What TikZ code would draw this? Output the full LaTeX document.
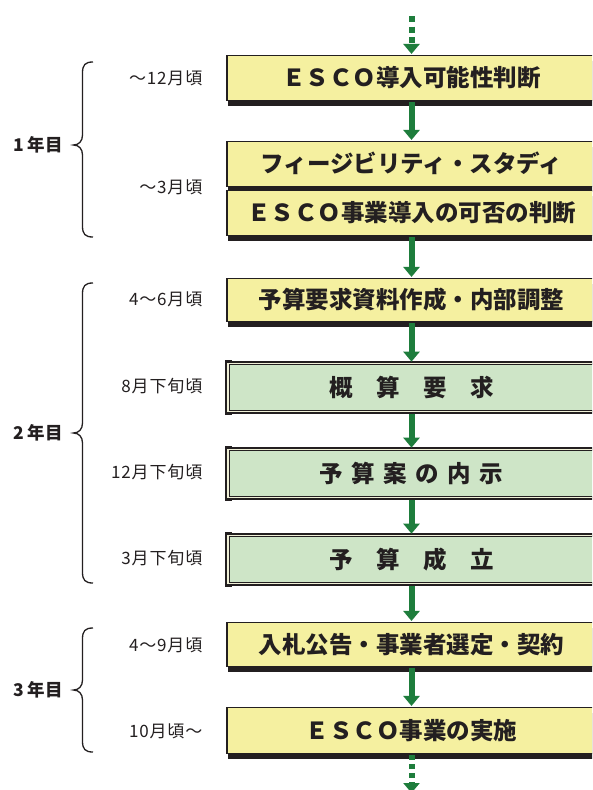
\documentclass[tikz,border=0pt]{standalone}
\usepackage{fontspec}
\setmainfont{Noto Sans CJK JP}
\usetikzlibrary{arrows.meta,shadows}
\definecolor{ink}{RGB}{35,31,32}
\definecolor{boxyellow}{RGB}{245,240,160}
\definecolor{boxgreen}{RGB}{206,229,199}
\definecolor{arrowgreen}{RGB}{30,125,60}
\definecolor{cream}{RGB}{240,240,215}
\newcommand{\kspc}{\hspace{8.5pt}}
\begin{document}
\begin{tikzpicture}[x=1pt,y=-1pt,
  boxtext/.style={font=\fontsize{23.5}{28}\selectfont\bfseries, text=ink, text height=19.3pt, text depth=1.4pt, inner sep=0pt},
  ybox/.style={boxtext, draw=ink, line width=1.5pt, fill=boxyellow, minimum width=369pt, minimum height=45pt,
    general shadow={fill=ink, shadow xshift=1pt, shadow yshift=-5pt}},
  gbox/.style={boxtext, draw=ink, line width=1.6pt, double=cream, double distance=1.1pt, fill=boxgreen,
    minimum width=367pt, minimum height=48.5pt,
    append after command={\pgfextra{\fill[ink] ([xshift=-2.3pt,yshift=-2.3pt]\tikzlastnode.south west) rectangle ([xshift=4.5pt,yshift=2.3pt]\tikzlastnode.north west);}}},
  arr/.style={draw=arrowgreen, line width=6pt, -{Triangle[width=16pt,length=10pt]}, shorten <=1pt, shorten >=0.8pt},
  brace/.style={draw=ink, line width=1.3pt},
  timelbl/.style={font=\fontsize{17}{20}\selectfont\addfontfeatures{LetterSpace=5}, text=ink, anchor=east, inner sep=0pt},
  yearlbl/.style={font=\fontsize{17.5}{20}\selectfont\bfseries, text=ink, anchor=east, inner sep=0pt}
]
\useasboundingbox (0,0) rectangle (592,790);
\clip (0,0) rectangle (592,790);
\fill[white] (0,0) rectangle (592,790);

% boxes
\node[ybox] (b1) at (411.5,78) {ＥＳＣＯ導入可能性判断};
\node[ybox] (b2) at (411.5,164) {フィージビリティ・スタディ};
\node[ybox] (b3) at (411.5,213) {ＥＳＣＯ事業導入の可否の判断};
\node[ybox, minimum height=43pt] (b4) at (411.5,300) {予算要求資料作成・内部調整};
\node[gbox] (b5) at (411.5,387.5) {概　算　要　求};
\node[gbox] (b6) at (411.5,473.5) {予\kspc 算\kspc 案\kspc の\kspc 内\kspc 示};
\node[gbox] (b7) at (411.5,559.5) {予　算　成　立};
\node[ybox, minimum height=44pt] (b8) at (411.5,644.5) {入札公告・事業者選定・契約};
\node[ybox, minimum height=46pt] (b9) at (411.5,730.5) {ＥＳＣＯ事業の実施};

% arrows
\coordinate (top) at (411.5,16);
\coordinate (bot) at (411.5,793);
\draw[arr, dash pattern=on 6pt off 4.5pt, shorten <=0pt] (top) -- (b1.north);
\draw[arr] (b1.south) -- (b2.north);
\draw[arr] (b3.south) -- (b4.north);
\draw[arr] (b4.south) -- (b5.north);
\draw[arr] (b5.south) -- (b6.north);
\draw[arr] (b6.south) -- (b7.north);
\draw[arr] (b7.south) -- (b8.north);
\draw[arr] (b8.south) -- (b9.north);
\draw[arr, dash pattern=on 5pt off 4pt, shorten >=0pt] (b9.south) -- (bot);

% braces
\draw[brace] (93,62) .. controls (85,62) and (82.5,65) .. (82.5,73) -- (82.5,135) .. controls (82.5,141) and (79,145) .. (73.5,145)
  .. controls (79,145) and (82.5,149) .. (82.5,155) -- (82.5,226) .. controls (82.5,234) and (85,237) .. (93,237);
\draw[brace] (93,283) .. controls (85,283) and (82.5,286) .. (82.5,294) -- (82.5,423) .. controls (82.5,429) and (79,433) .. (73.5,433)
  .. controls (79,433) and (82.5,437) .. (82.5,443) -- (82.5,572) .. controls (82.5,580) and (85,583) .. (93,583);
\draw[brace] (93,628) .. controls (85,628) and (82.5,631) .. (82.5,639) -- (82.5,680) .. controls (82.5,686) and (79,690) .. (73.5,690)
  .. controls (79,690) and (82.5,694) .. (82.5,700) -- (82.5,741) .. controls (82.5,749) and (85,752) .. (93,752);

% year labels
\node[yearlbl] (y1) at (63,145) {1 年目};
\node[yearlbl] (y2) at (63,433) {2 年目};
\node[yearlbl] (y3) at (63,690) {3 年目};

% time labels
\node[timelbl] (t1) at (202.5,78) {～12月頃};
\node[timelbl] (t2) at (202.5,187) {～3月頃};
\node[timelbl] (t3) at (202.5,299) {4～6月頃};
\node[timelbl] (t4) at (202.5,386) {8月下旬頃};
\node[timelbl] (t5) at (202.5,472) {12月下旬頃};
\node[timelbl] (t6) at (202.5,558) {3月下旬頃};
\node[timelbl] (t7) at (202.5,645) {4～9月頃};
\node[timelbl] (t8) at (202.5,731) {10月頃～};
\end{tikzpicture}
\end{document}
